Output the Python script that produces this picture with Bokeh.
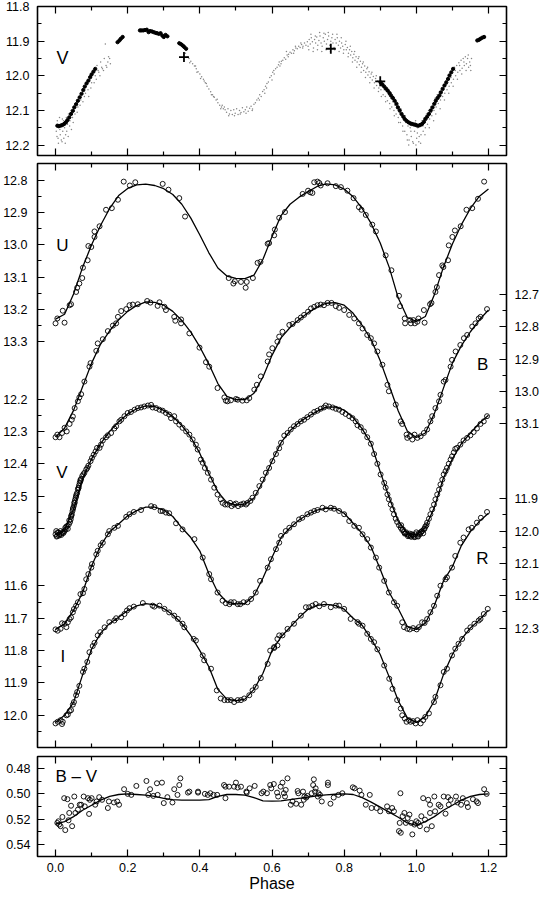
from bokeh.plotting import figure
from bokeh.models import (Range1d, FixedTicker, LinearAxis, Label,
                          CustomJSTickFormatter, NumeralTickFormatter)
from bokeh.layouts import column
from bokeh.embed import file_html
from bokeh.resources import INLINE

FONT = "Liberation Sans"

# ------------------------------------------------------------------ data
# top panel (V, other data set)
top_black = [(0.005, 12.144), (0.009, 12.145), (0.014, 12.144), (0.019, 12.142), (0.024, 12.139),
             (0.029, 12.134), (0.033, 12.128), (0.038, 12.120), (0.043, 12.110), (0.048, 12.101),
             (0.052, 12.091), (0.057, 12.082), (0.062, 12.072), (0.067, 12.062), (0.072, 12.052),
             (0.077, 12.041), (0.081, 12.031), (0.086, 12.022), (0.091, 12.014), (0.096, 12.004),
             (0.100, 11.996), (0.105, 11.988), (0.110, 11.980), (0.172, 11.903), (0.177, 11.898),
             (0.181, 11.893), (0.186, 11.888), (0.234, 11.869), (0.238, 11.869), (0.243, 11.869),
             (0.248, 11.868), (0.253, 11.867), (0.258, 11.874), (0.262, 11.871), (0.267, 11.872),
             (0.272, 11.874), (0.277, 11.876), (0.281, 11.877), (0.286, 11.879), (0.291, 11.877),
             (0.296, 11.884), (0.300, 11.888), (0.305, 11.882), (0.310, 11.886), (0.343, 11.906),
             (0.348, 11.909), (0.353, 11.913), (0.357, 11.917), (0.362, 11.922), (0.901, 12.019),
             (0.906, 12.025), (0.911, 12.031), (0.916, 12.037), (0.921, 12.043), (0.926, 12.050),
             (0.930, 12.057), (0.935, 12.064), (0.940, 12.072), (0.945, 12.081), (0.949, 12.091),
             (0.954, 12.100), (0.959, 12.110), (0.964, 12.118), (0.968, 12.125), (0.973, 12.130),
             (0.978, 12.134), (0.983, 12.137), (0.987, 12.139), (0.992, 12.140), (0.997, 12.141),
             (1.001, 12.143), (1.006, 12.144), (1.011, 12.142), (1.016, 12.139), (1.021, 12.133),
             (1.025, 12.125), (1.030, 12.118), (1.035, 12.110), (1.040, 12.100), (1.045, 12.091),
             (1.050, 12.081), (1.054, 12.072), (1.059, 12.064), (1.064, 12.057), (1.068, 12.048),
             (1.073, 12.038), (1.078, 12.028), (1.083, 12.019), (1.088, 12.009), (1.092, 11.999),
             (1.097, 11.990), (1.102, 11.980), (1.169, 11.898), (1.174, 11.896), (1.178, 11.893),
             (1.183, 11.890), (1.188, 11.888)]
top_plus = [(0.356, 11.946), (0.763, 11.922), (0.900, 12.016)]
top_gray = [
    (0.002, 12.16), (0.005, 12.13), (0.007, 12.18), (0.009, 12.15), (0.011, 12.12), (0.013, 12.17),
    (0.015, 12.14), (0.018, 12.19), (0.020, 12.16), (0.022, 12.13), (0.025, 12.15), (0.028, 12.17),
    (0.030, 12.12), (0.033, 12.14), (0.036, 12.11), (0.040, 12.13), (0.043, 12.10), (0.047, 12.12),
    (0.050, 12.09), (0.054, 12.11), (0.058, 12.08), (0.062, 12.09), (0.066, 12.06), (0.070, 12.07),
    (0.075, 12.05), (0.080, 12.06), (0.085, 12.03), (0.090, 12.04), (0.095, 12.01), (0.100, 12.02),
    (0.105, 11.99), (0.110, 12.00), (0.115, 11.97), (0.120, 11.99), (0.125, 11.96), (0.130, 11.98),
    (0.135, 11.95), (0.140, 11.97), (0.145, 11.96), (0.150, 11.95), (0.138, 11.908),
    (0.004, 12.175), (0.008, 12.195), (0.012, 12.155), (0.016, 12.185), (0.019, 12.125),
    (0.023, 12.18), (0.027, 12.195), (0.031, 12.16), (0.035, 12.175), (0.039, 12.145),
    (0.044, 12.155), (0.049, 12.135), (0.060, 12.105), (0.068, 12.085), (0.076, 12.075),
    (0.083, 12.05), (0.092, 12.06), (0.098, 12.035), (0.107, 12.02), (0.113, 12.01),
    (0.118, 11.985), (0.123, 12.0), (0.128, 11.975), (0.133, 11.985), (0.142, 11.975),
    (0.147, 11.945), (0.152, 11.965),
    (0.360, 11.935), (0.365, 11.945), (0.370, 11.950), (0.375, 11.958), (0.380, 11.965),
    (0.385, 11.972), (0.390, 11.980), (0.395, 11.988), (0.400, 11.995), (0.405, 12.003),
    (0.410, 12.010), (0.415, 12.020), (0.420, 12.030), (0.425, 12.038), (0.430, 12.046),
    (0.435, 12.055), (0.440, 12.062), (0.445, 12.070), (0.450, 12.078), (0.455, 12.085),
    (0.460, 12.090), (0.465, 12.095), (0.470, 12.098), (0.372, 11.962), (0.388, 11.972),
    (0.402, 12.008), (0.418, 12.022), (0.432, 12.055), (0.448, 12.068), (0.458, 12.095),
    (0.468, 12.090), (0.392, 11.99), (0.412, 12.015), (0.438, 12.06), (0.462, 12.085),
    (0.474, 12.105), (0.478, 12.095), (0.482, 12.110), (0.486, 12.100), (0.490, 12.112),
    (0.494, 12.098), (0.498, 12.108), (0.502, 12.095), (0.506, 12.112), (0.510, 12.100),
    (0.514, 12.106), (0.518, 12.092), (0.522, 12.104), (0.526, 12.098), (0.530, 12.090),
    (0.534, 12.102), (0.538, 12.094), (0.542, 12.088), (0.546, 12.096), (0.550, 12.082),
    (0.554, 12.078), (0.558, 12.070), (0.480, 12.115), (0.496, 12.115), (0.512, 12.11),
    (0.528, 12.108), (0.545, 12.10),
    (0.562, 12.065), (0.566, 12.055), (0.570, 12.060), (0.574, 12.045), (0.578, 12.040),
    (0.582, 12.030), (0.586, 12.022), (0.590, 12.018), (0.594, 12.005), (0.598, 12.000),
    (0.602, 11.990), (0.606, 11.995), (0.610, 11.980), (0.614, 11.975), (0.618, 11.968),
    (0.622, 11.972), (0.626, 11.958), (0.630, 11.955), (0.634, 11.948), (0.638, 11.952),
    (0.642, 11.940), (0.646, 11.938), (0.650, 11.932), (0.654, 11.935), (0.658, 11.925),
    (0.662, 11.928), (0.666, 11.920), (0.670, 11.922), (0.674, 11.915), (0.678, 11.918),
    (0.682, 11.910), (0.686, 11.915), (0.690, 11.905), (0.694, 11.912), (0.698, 11.902),
    (0.580, 12.050), (0.600, 12.012), (0.620, 11.960), (0.640, 11.930), (0.660, 11.935),
    (0.680, 11.905), (0.565, 12.07), (0.585, 12.035), (0.605, 11.985), (0.625, 11.965),
    (0.645, 11.945), (0.665, 11.915), (0.685, 11.92),
    (0.700, 11.915), (0.703, 11.895), (0.706, 11.908), (0.709, 11.890), (0.712, 11.902),
    (0.715, 11.920), (0.718, 11.895), (0.721, 11.905), (0.724, 11.888), (0.727, 11.912),
    (0.730, 11.898), (0.733, 11.885), (0.736, 11.905), (0.739, 11.915), (0.742, 11.890),
    (0.745, 11.900), (0.748, 11.880), (0.751, 11.908), (0.754, 11.895), (0.757, 11.885),
    (0.760, 11.912), (0.763, 11.900), (0.766, 11.890), (0.769, 11.905), (0.772, 11.918),
    (0.775, 11.895), (0.778, 11.905), (0.781, 11.890), (0.784, 11.912), (0.787, 11.900),
    (0.790, 11.920), (0.793, 11.905), (0.796, 11.915), (0.799, 11.925),
    (0.702, 11.925), (0.708, 11.88), (0.714, 11.93), (0.720, 11.885), (0.726, 11.925),
    (0.732, 11.875), (0.738, 11.93), (0.744, 11.877), (0.750, 11.925), (0.756, 11.875),
    (0.762, 11.93), (0.768, 11.88), (0.774, 11.925), (0.780, 11.88), (0.786, 11.93),
    (0.792, 11.89), (0.798, 11.935),
    (0.803, 11.910), (0.806, 11.925), (0.809, 11.918), (0.812, 11.935), (0.815, 11.925),
    (0.818, 11.940), (0.821, 11.930), (0.824, 11.948), (0.827, 11.938), (0.830, 11.955),
    (0.833, 11.945), (0.836, 11.960), (0.839, 11.950), (0.842, 11.968), (0.845, 11.958),
    (0.848, 11.975), (0.851, 11.965), (0.854, 11.985), (0.857, 11.972), (0.860, 11.990),
    (0.863, 11.980), (0.866, 11.998), (0.869, 11.988), (0.872, 12.005), (0.875, 11.995),
    (0.878, 12.012), (0.881, 12.002), (0.884, 12.020), (0.887, 12.008), (0.890, 12.028),
    (0.893, 12.015), (0.896, 12.035), (0.899, 12.022),
    (0.805, 11.90), (0.811, 11.945), (0.817, 11.915), (0.823, 11.96), (0.829, 11.93),
    (0.835, 11.975), (0.841, 11.945), (0.847, 11.99), (0.853, 11.96), (0.859, 12.005),
    (0.865, 11.975), (0.871, 12.02), (0.877, 11.99), (0.883, 12.035), (0.889, 12.0),
    (0.895, 12.045),
    (0.902, 12.040), (0.905, 12.030), (0.908, 12.055), (0.911, 12.040), (0.914, 12.060),
    (0.917, 12.045), (0.920, 12.072), (0.923, 12.055), (0.926, 12.080), (0.929, 12.065),
    (0.932, 12.090), (0.935, 12.075), (0.938, 12.100), (0.941, 12.085), (0.944, 12.110),
    (0.947, 12.095), (0.950, 12.120), (0.953, 12.105), (0.956, 12.135), (0.959, 12.115),
    (0.962, 12.145), (0.965, 12.125), (0.968, 12.160), (0.971, 12.135), (0.974, 12.170),
    (0.977, 12.145), (0.980, 12.185), (0.983, 12.150), (0.986, 12.175), (0.989, 12.135),
    (0.992, 12.195), (0.995, 12.160), (0.998, 12.130), (1.001, 12.180), (1.004, 12.150),
    (1.007, 12.190), (1.010, 12.140), (1.013, 12.170), (1.016, 12.130), (1.019, 12.160),
    (1.022, 12.120), (1.025, 12.150), (1.028, 12.110), (1.031, 12.140), (1.034, 12.100),
    (1.037, 12.125), (1.040, 12.090), (1.043, 12.115), (1.046, 12.080), (1.049, 12.100),
    (0.903, 12.06), (0.909, 12.025), (0.915, 12.075), (0.921, 12.045), (0.927, 12.095),
    (0.933, 12.06), (0.939, 12.115), (0.945, 12.075), (0.951, 12.135), (0.957, 12.095),
    (0.963, 12.16), (0.969, 12.115), (0.975, 12.185), (0.979, 12.2), (0.985, 12.16),
    (0.990, 12.19), (0.994, 12.145), (0.999, 12.2), (1.003, 12.165), (1.008, 12.175),
    (1.012, 12.195), (1.018, 12.145), (1.024, 12.17), (1.030, 12.125), (1.036, 12.15),
    (1.042, 12.105), (1.048, 12.13),
    (1.052, 12.065), (1.055, 12.090), (1.058, 12.055), (1.061, 12.080), (1.064, 12.045),
    (1.067, 12.070), (1.070, 12.035), (1.073, 12.060), (1.076, 12.025), (1.079, 12.050),
    (1.082, 12.015), (1.085, 12.040), (1.088, 12.005), (1.091, 12.030), (1.094, 11.995),
    (1.097, 12.020), (1.100, 11.985), (1.103, 12.010), (1.106, 11.975), (1.109, 12.000),
    (1.112, 11.970), (1.115, 11.990), (1.118, 11.962), (1.121, 11.985), (1.124, 11.955),
    (1.127, 11.978), (1.130, 11.950), (1.133, 11.970), (1.136, 11.945), (1.139, 11.965),
    (1.142, 11.950), (1.145, 11.975), (1.148, 11.960), (1.151, 11.985),
    (1.054, 12.11), (1.060, 12.06), (1.066, 12.095), (1.072, 12.045), (1.078, 12.07),
    (1.084, 12.025), (1.090, 12.05), (1.096, 12.005), (1.102, 12.03), (1.108, 11.985),
    (1.114, 12.01), (1.120, 11.97), (1.126, 11.995), (1.132, 11.96), (1.138, 11.985),
    (1.144, 11.94), (1.150, 11.97), (1.153, 11.95)]

# fitted curves (middle + bottom panels)
curve_phase = [0.000, 0.025, 0.050, 0.075, 0.100, 0.125, 0.150, 0.175, 0.200, 0.225, 0.250, 0.275,
               0.300, 0.325, 0.350, 0.375, 0.400, 0.425, 0.450, 0.475, 0.500, 0.525, 0.550, 0.575,
               0.600, 0.625, 0.650, 0.675, 0.700, 0.725, 0.750, 0.775, 0.800, 0.825, 0.850, 0.875,
               0.900, 0.925, 0.950, 0.975, 1.000, 1.025, 1.050, 1.075, 1.100, 1.125, 1.150, 1.175,
               1.200]
U_curve = [13.230, 13.215, 13.152, 13.070, 13.000, 12.940, 12.888, 12.848, 12.826, 12.815, 12.813,
           12.817, 12.827, 12.845, 12.875, 12.918, 12.970, 13.025, 13.072, 13.097, 13.104, 13.105,
           13.094, 13.045, 12.975, 12.910, 12.875, 12.853, 12.836, 12.820, 12.812, 12.815, 12.828,
           12.852, 12.888, 12.935, 12.995, 13.070, 13.165, 13.225, 13.237, 13.222, 13.155, 13.070,
           12.998, 12.938, 12.888, 12.850, 12.828]
B_curve = [13.140, 13.113, 13.058, 12.985, 12.912, 12.853, 12.812, 12.778, 12.752, 12.734, 12.723,
           12.724, 12.733, 12.752, 12.780, 12.816, 12.862, 12.915, 12.975, 13.015, 13.025, 13.025,
           13.005, 12.955, 12.888, 12.834, 12.802, 12.777, 12.756, 12.739, 12.727, 12.725, 12.733,
           12.758, 12.795, 12.840, 12.905, 12.982, 13.060, 13.122, 13.142, 13.128, 13.068, 12.990,
           12.912, 12.858, 12.815, 12.778, 12.748]
V_curve = [12.618, 12.605, 12.540, 12.445, 12.385, 12.338, 12.300, 12.270, 12.246, 12.230, 12.221,
           12.223, 12.235, 12.254, 12.282, 12.318, 12.368, 12.430, 12.487, 12.520, 12.527, 12.525,
           12.506, 12.455, 12.392, 12.335, 12.298, 12.272, 12.254, 12.238, 12.225, 12.224, 12.234,
           12.257, 12.292, 12.338, 12.425, 12.505, 12.578, 12.614, 12.620, 12.597, 12.535, 12.445,
           12.385, 12.338, 12.305, 12.275, 12.250]
R_curve = [12.304, 12.287, 12.245, 12.190, 12.108, 12.045, 12.002, 11.978, 11.953, 11.937, 11.926,
           11.926, 11.935, 11.955, 11.990, 12.020, 12.062, 12.132, 12.190, 12.220, 12.225, 12.224,
           12.200, 12.145, 12.082, 12.020, 11.990, 11.966, 11.948, 11.935, 11.929, 11.930, 11.945,
           11.976, 12.008, 12.050, 12.118, 12.190, 12.240, 12.295, 12.304, 12.285, 12.230, 12.155,
           12.110, 12.045, 12.002, 11.970, 11.945]
I_curve = [12.022, 12.000, 11.960, 11.875, 11.795, 11.746, 11.716, 11.697, 11.676, 11.662, 11.655,
           11.659, 11.670, 11.689, 11.716, 11.754, 11.800, 11.850, 11.920, 11.950, 11.955, 11.950,
           11.920, 11.870, 11.800, 11.758, 11.728, 11.698, 11.672, 11.660, 11.657, 11.660, 11.672,
           11.700, 11.722, 11.764, 11.812, 11.882, 11.955, 12.008, 12.022, 12.004, 11.955, 11.875,
           11.812, 11.765, 11.730, 11.705, 11.675]
BV_curve = [0.524, 0.522, 0.518, 0.513, 0.509, 0.505, 0.502, 0.5005, 0.500, 0.5005, 0.501, 0.502,
            0.5035, 0.5045, 0.505, 0.505, 0.505, 0.5045, 0.502, 0.5005, 0.5005, 0.501, 0.503, 0.5055,
            0.5058, 0.5055, 0.5045, 0.5035, 0.5025, 0.5015, 0.5008, 0.5003, 0.500, 0.5005, 0.503,
            0.5065, 0.5105, 0.5145, 0.5185, 0.523, 0.525, 0.522, 0.518, 0.513, 0.509, 0.505, 0.502,
            0.5005, 0.500]

# observations (phase, magnitude)
U_obs = [(0.000, 13.243), (0.005, 13.228), (0.020, 13.204), (0.025, 13.241), (0.039, 13.187),
         (0.043, 13.184), (0.057, 13.146), (0.060, 13.133), (0.066, 13.120), (0.074, 13.103),
         (0.076, 13.071), (0.089, 13.048), (0.091, 13.004), (0.099, 13.007), (0.108, 12.976),
         (0.108, 12.959), (0.122, 12.943), (0.140, 12.892), (0.156, 12.887), (0.173, 12.861),
         (0.189, 12.805), (0.206, 12.817), (0.221, 12.807), (0.297, 12.812), (0.313, 12.830),
         (0.343, 12.856), (0.359, 12.913), (0.480, 13.103), (0.493, 13.120), (0.497, 13.113),
         (0.514, 13.115), (0.527, 13.133), (0.530, 13.115), (0.547, 13.103), (0.560, 13.056),
         (0.568, 13.053), (0.588, 12.997), (0.592, 12.995), (0.606, 12.971), (0.620, 12.917),
         (0.608, 12.953), (0.636, 12.899), (0.685, 12.843), (0.700, 12.833), (0.706, 12.838),
         (0.712, 12.840), (0.717, 12.807), (0.726, 12.805), (0.731, 12.809), (0.735, 12.817),
         (0.754, 12.810), (0.777, 12.819), (0.791, 12.822), (0.809, 12.833), (0.826, 12.856),
         (0.841, 12.884), (0.848, 12.892), (0.860, 12.908), (0.878, 12.938), (0.888, 12.959),
         (0.915, 13.033), (0.931, 13.079), (0.952, 13.158), (0.955, 13.190), (0.968, 13.228),
         (0.969, 13.243), (0.983, 13.233), (0.985, 13.243), (0.992, 13.233), (0.996, 13.243),
         (1.003, 13.238), (1.006, 13.228), (1.021, 13.202), (1.023, 13.241), (1.038, 13.184),
         (1.042, 13.180), (1.053, 13.146), (1.057, 13.131), (1.063, 13.094), (1.072, 13.064),
         (1.075, 13.069), (1.088, 13.048), (1.090, 13.002), (1.100, 12.976), (1.107, 12.956),
         (1.123, 12.943), (1.139, 12.892), (1.155, 12.887), (1.171, 12.858), (1.188, 12.805)]
B_obs = [(0.000, 13.141), (0.005, 13.133), (0.011, 13.141), (0.018, 13.128), (0.025, 13.112),
         (0.031, 13.123), (0.039, 13.100), (0.045, 13.087), (0.048, 13.077), (0.053, 13.051),
         (0.062, 13.030), (0.066, 13.018), (0.071, 13.008), (0.080, 12.969), (0.094, 12.923),
         (0.097, 12.912), (0.113, 12.874), (0.117, 12.851), (0.131, 12.838), (0.145, 12.813),
         (0.159, 12.796), (0.168, 12.789), (0.173, 12.769), (0.182, 12.751), (0.196, 12.745),
         (0.205, 12.733), (0.214, 12.731), (0.228, 12.730), (0.254, 12.720), (0.263, 12.725),
         (0.283, 12.735), (0.288, 12.724), (0.302, 12.738), (0.306, 12.748), (0.329, 12.769),
         (0.332, 12.781), (0.348, 12.777), (0.348, 12.789), (0.371, 12.820), (0.399, 12.864),
         (0.417, 12.909), (0.426, 12.923), (0.449, 12.989), (0.468, 13.018), (0.472, 13.028),
         (0.477, 13.030), (0.486, 13.027), (0.500, 13.023), (0.505, 13.025), (0.518, 13.028),
         (0.530, 13.027), (0.537, 13.020), (0.551, 12.994), (0.558, 12.979), (0.569, 12.953),
         (0.588, 12.907), (0.592, 12.885), (0.601, 12.866), (0.615, 12.846), (0.620, 12.830),
         (0.629, 12.815), (0.648, 12.794), (0.657, 12.791), (0.671, 12.779), (0.680, 12.771),
         (0.689, 12.763), (0.700, 12.753), (0.708, 12.743), (0.717, 12.738), (0.726, 12.733),
         (0.735, 12.731), (0.744, 12.733), (0.754, 12.726), (0.765, 12.726), (0.777, 12.736),
         (0.786, 12.741), (0.800, 12.748), (0.814, 12.763), (0.828, 12.774), (0.841, 12.789),
         (0.851, 12.805), (0.864, 12.825), (0.874, 12.835), (0.883, 12.851), (0.892, 12.876),
         (0.906, 12.917), (0.920, 12.979), (0.924, 12.999), (0.943, 13.040), (0.957, 13.092),
         (0.961, 13.100), (0.973, 13.133), (0.975, 13.143), (0.982, 13.138), (0.989, 13.148),
         (0.995, 13.133), (1.003, 13.143), (1.012, 13.138), (1.021, 13.128), (1.030, 13.117),
         (1.039, 13.092), (1.044, 13.076), (1.053, 13.051), (1.063, 13.030), (1.067, 13.010),
         (1.076, 12.969), (1.081, 12.964), (1.095, 12.923), (1.099, 12.902), (1.109, 12.876),
         (1.122, 12.856), (1.132, 12.835), (1.141, 12.825), (1.155, 12.799), (1.164, 12.789),
         (1.173, 12.774), (1.178, 12.769), (1.196, 12.745)]
V_obs = [(0.122, 12.351), (0.126, 12.341), (0.131, 12.328), (0.140, 12.318), (0.145, 12.312),
         (0.154, 12.305), (0.163, 12.291), (0.168, 12.284), (0.177, 12.269), (0.182, 12.264),
         (0.191, 12.253), (0.200, 12.243), (0.209, 12.240), (0.219, 12.233), (0.228, 12.228),
         (0.237, 12.226), (0.246, 12.223), (0.256, 12.220), (0.265, 12.218), (0.269, 12.226),
         (0.279, 12.228), (0.288, 12.233), (0.297, 12.236), (0.306, 12.243), (0.315, 12.248),
         (0.320, 12.259), (0.329, 12.253), (0.334, 12.269), (0.343, 12.279), (0.352, 12.289),
         (0.362, 12.300), (0.371, 12.310), (0.380, 12.325), (0.389, 12.341), (0.394, 12.356),
         (0.000, 12.618), (0.002, 12.608), (0.005, 12.623), (0.008, 12.613), (0.011, 12.618),
         (0.014, 12.608), (0.018, 12.615), (0.020, 12.611), (0.025, 12.608), (0.028, 12.603),
         (0.030, 12.594), (0.034, 12.601), (0.037, 12.587), (0.040, 12.580), (0.042, 12.572),
         (0.043, 12.564), (0.045, 12.556), (0.047, 12.546), (0.049, 12.536), (0.051, 12.529),
         (0.053, 12.521), (0.054, 12.512), (0.056, 12.505), (0.058, 12.495), (0.060, 12.490),
         (0.062, 12.480), (0.064, 12.474), (0.065, 12.467), (0.067, 12.459), (0.069, 12.454),
         (0.071, 12.447), (0.074, 12.438), (0.077, 12.433), (0.080, 12.428), (0.085, 12.418),
         (0.088, 12.413), (0.091, 12.406), (0.097, 12.392), (0.101, 12.382), (0.106, 12.372),
         (0.111, 12.362), (0.115, 12.351), (0.403, 12.387), (0.408, 12.397), (0.414, 12.413),
         (0.422, 12.428), (0.431, 12.449), (0.440, 12.474), (0.449, 12.495), (0.458, 12.510),
         (0.463, 12.521), (0.470, 12.526), (0.477, 12.526), (0.484, 12.521), (0.488, 12.531),
         (0.495, 12.526), (0.500, 12.523), (0.506, 12.531), (0.514, 12.526), (0.521, 12.523),
         (0.528, 12.526), (0.532, 12.521), (0.540, 12.515), (0.546, 12.505), (0.555, 12.490),
         (0.565, 12.469), (0.574, 12.449), (0.583, 12.428), (0.592, 12.413), (0.601, 12.392),
         (0.611, 12.370), (0.620, 12.352), (0.625, 12.335),
         (0.634, 12.313), (0.643, 12.305), (0.652, 12.294), (0.661, 12.284), (0.671, 12.277),
         (0.680, 12.269), (0.689, 12.264), (0.698, 12.256), (0.708, 12.248), (0.717, 12.240),
         (0.726, 12.236), (0.735, 12.230), (0.744, 12.226), (0.749, 12.220), (0.758, 12.223),
         (0.768, 12.226), (0.777, 12.230), (0.786, 12.233), (0.795, 12.240), (0.804, 12.246),
         (0.814, 12.253), (0.823, 12.259), (0.832, 12.269), (0.837, 12.281), (0.846, 12.287),
         (0.855, 12.300), (0.864, 12.318), (0.874, 12.338), (1.113, 12.351),
         (1.122, 12.341), (1.131, 12.328), (1.141, 12.320), (1.150, 12.312), (1.159, 12.302),
         (1.168, 12.291), (1.178, 12.277), (1.187, 12.269), (1.196, 12.253),
         (0.883, 12.370), (0.892, 12.400), (0.901, 12.433), (0.911, 12.459),
         (0.915, 12.474), (0.920, 12.495), (0.924, 12.510), (0.929, 12.526), (0.934, 12.541),
         (0.938, 12.556), (0.943, 12.570), (0.947, 12.580), (0.952, 12.590), (0.957, 12.598),
         (0.961, 12.605), (0.966, 12.611), (0.970, 12.615), (0.975, 12.618), (0.979, 12.621),
         (0.984, 12.623), (0.988, 12.618), (0.993, 12.625), (0.998, 12.618), (1.003, 12.623),
         (1.007, 12.615), (1.012, 12.613), (1.016, 12.608), (1.021, 12.603), (1.025, 12.594),
         (1.030, 12.582), (1.035, 12.570), (1.039, 12.556), (1.044, 12.541), (1.049, 12.526),
         (1.053, 12.510), (1.058, 12.495), (1.063, 12.480), (1.067, 12.464), (1.072, 12.449),
         (1.076, 12.433), (1.081, 12.423), (1.085, 12.413), (1.090, 12.400), (1.095, 12.387),
         (1.099, 12.377), (1.104, 12.365), (1.108, 12.354),
         (0.003, 12.625), (0.006, 12.612), (0.010, 12.622), (0.016, 12.620), (0.022, 12.614),
         (0.027, 12.598), (0.033, 12.592), (0.038, 12.575), (0.044, 12.560), (0.048, 12.540),
         (0.052, 12.520), (0.057, 12.500), (0.063, 12.476), (0.069, 12.450), (0.958, 12.590),
         (0.963, 12.603), (0.968, 12.616), (0.972, 12.612), (0.977, 12.624), (0.982, 12.616),
         (0.986, 12.626), (0.991, 12.620), (0.996, 12.627), (1.000, 12.612), (1.005, 12.625),
         (1.010, 12.618), (1.014, 12.610), (1.019, 12.615), (1.023, 12.600), (1.028, 12.590)]
R_obs = [(0.000, 12.304), (0.006, 12.308), (0.014, 12.302), (0.018, 12.285), (0.025, 12.287),
         (0.030, 12.297), (0.034, 12.282), (0.039, 12.272), (0.043, 12.267), (0.048, 12.251),
         (0.051, 12.241), (0.057, 12.231), (0.062, 12.220), (0.069, 12.195), (0.076, 12.192),
         (0.080, 12.179), (0.085, 12.149), (0.091, 12.133), (0.099, 12.113), (0.101, 12.102),
         (0.113, 12.072), (0.117, 12.061), (0.125, 12.044), (0.131, 12.036), (0.145, 12.010),
         (0.149, 12.000), (0.163, 11.990), (0.173, 11.984), (0.196, 11.956), (0.205, 11.948),
         (0.217, 11.941), (0.237, 11.935), (0.265, 11.923), (0.274, 11.926), (0.291, 11.938),
         (0.297, 11.938), (0.306, 11.943), (0.315, 11.945), (0.334, 11.976), (0.352, 11.995),
         (0.385, 12.025), (0.408, 12.082), (0.426, 12.133), (0.431, 12.149), (0.449, 12.190),
         (0.463, 12.215), (0.472, 12.223), (0.482, 12.226), (0.486, 12.220), (0.495, 12.220),
         (0.505, 12.226), (0.512, 12.226), (0.521, 12.220), (0.532, 12.220), (0.542, 12.210),
         (0.555, 12.190), (0.567, 12.154), (0.588, 12.113), (0.597, 12.087), (0.611, 12.056),
         (0.620, 12.036), (0.625, 12.015), (0.638, 12.000), (0.648, 11.990),
         (0.661, 11.979), (0.675, 11.964), (0.684, 11.959), (0.698, 11.948), (0.708, 11.943),
         (0.717, 11.938), (0.726, 11.935), (0.740, 11.928), (0.749, 11.933), (0.763, 11.928),
         (0.772, 11.931), (0.786, 11.938), (0.800, 11.948), (0.814, 11.969), (0.828, 11.984),
         (0.841, 11.990), (0.851, 12.010), (0.864, 12.025), (0.874, 12.051), (0.888, 12.082),
         (0.897, 12.113), (0.911, 12.154), (0.924, 12.190), (0.938, 12.220), (0.947, 12.231),
         (0.961, 12.282), (0.966, 12.297), (0.975, 12.302), (0.982, 12.304), (0.991, 12.300),
         (1.001, 12.304), (1.007, 12.297), (1.016, 12.282), (1.023, 12.284), (1.030, 12.272),
         (1.039, 12.251), (1.049, 12.231), (1.058, 12.200), (1.067, 12.169), (1.081, 12.149),
         (1.085, 12.143), (1.099, 12.113), (1.108, 12.077), (1.122, 12.036), (1.131, 12.020),
         (1.145, 11.995), (1.154, 11.990), (1.168, 11.974), (1.179, 11.959), (1.196, 11.941)]
I_obs = [(0.000, 12.025), (0.006, 12.020), (0.014, 12.015), (0.018, 12.027), (0.020, 12.020),
         (0.030, 12.000), (0.034, 11.998), (0.039, 11.987), (0.043, 11.984), (0.048, 11.967),
         (0.051, 11.959), (0.057, 11.938), (0.060, 11.928), (0.066, 11.909), (0.076, 11.866),
         (0.080, 11.856), (0.088, 11.835), (0.094, 11.805), (0.103, 11.786), (0.108, 11.776),
         (0.117, 11.753), (0.124, 11.743), (0.136, 11.728), (0.149, 11.712), (0.163, 11.707),
         (0.168, 11.700), (0.182, 11.697), (0.191, 11.687), (0.198, 11.676), (0.205, 11.669),
         (0.217, 11.664), (0.242, 11.653), (0.269, 11.661), (0.274, 11.664), (0.288, 11.661),
         (0.302, 11.671), (0.315, 11.682), (0.329, 11.692), (0.339, 11.702), (0.352, 11.717),
         (0.357, 11.728), (0.383, 11.764), (0.389, 11.769), (0.408, 11.815), (0.412, 11.830),
         (0.431, 11.856), (0.447, 11.923), (0.458, 11.948), (0.468, 11.953), (0.477, 11.953),
         (0.486, 11.953), (0.495, 11.959), (0.505, 11.953), (0.514, 11.953), (0.523, 11.948),
         (0.537, 11.938), (0.546, 11.923), (0.555, 11.912), (0.569, 11.885), (0.588, 11.841),
         (0.595, 11.800), (0.606, 11.789), (0.615, 11.764), (0.620, 11.753), (0.606, 11.792),
         (0.615, 11.784), (0.629, 11.753), (0.643, 11.733), (0.661, 11.717), (0.680, 11.692),
         (0.694, 11.666), (0.703, 11.666), (0.712, 11.661), (0.721, 11.656), (0.731, 11.663),
         (0.744, 11.656), (0.763, 11.666), (0.777, 11.661), (0.786, 11.661), (0.800, 11.671),
         (0.818, 11.702), (0.837, 11.712), (0.841, 11.717), (0.851, 11.723), (0.864, 11.748),
         (0.874, 11.764), (0.883, 11.774), (0.892, 11.796), (0.911, 11.846), (0.925, 11.887),
         (0.934, 11.918), (0.947, 11.953), (0.957, 11.979), (0.961, 12.000), (0.968, 12.010),
         (0.973, 12.020), (0.980, 12.015), (0.984, 12.020), (0.991, 12.018), (0.998, 12.025),
         (1.003, 12.015), (1.012, 12.025), (1.019, 12.015), (1.025, 12.005), (1.035, 11.994),
         (1.049, 11.959), (1.053, 11.943), (1.067, 11.907), (1.076, 11.866), (1.085, 11.856),
         (1.099, 11.815), (1.108, 11.794), (1.117, 11.779), (1.127, 11.764), (1.141, 11.738),
         (1.150, 11.728), (1.161, 11.717), (1.173, 11.707), (1.178, 11.702), (1.187, 11.687),
         (1.198, 11.671)]
BV_obs = [(0.005, 0.523), (0.008, 0.5217), (0.010, 0.5243), (0.014, 0.5256), (0.019, 0.5183),
          (0.024, 0.5034), (0.027, 0.5287), (0.033, 0.5042), (0.036, 0.5209), (0.038, 0.5151),
          (0.043, 0.5094), (0.046, 0.5256), (0.052, 0.5021), (0.055, 0.5151), (0.062, 0.5125),
          (0.067, 0.5086), (0.071, 0.5086), (0.078, 0.5021), (0.081, 0.5099), (0.090, 0.5034),
          (0.093, 0.5159), (0.095, 0.5047), (0.100, 0.5034), (0.110, 0.5086), (0.114, 0.506),
          (0.121, 0.5026), (0.129, 0.5047), (0.145, 0.5112), (0.148, 0.506), (0.162, 0.5068),
          (0.171, 0.506), (0.176, 0.5086), (0.190, 0.4963), (0.200, 0.500), (0.210, 0.5008),
          (0.224, 0.4937), (0.252, 0.4898), (0.257, 0.5008), (0.262, 0.4963), (0.271, 0.5016),
          (0.281, 0.4916), (0.283, 0.5008), (0.295, 0.4911), (0.300, 0.5073), (0.310, 0.5026),
          (0.324, 0.5068), (0.329, 0.4963), (0.338, 0.5008), (0.343, 0.493), (0.346, 0.4877),
          (0.367, 0.499), (0.371, 0.4982), (0.395, 0.4982), (0.395, 0.499), (0.414, 0.500),
          (0.422, 0.5008), (0.429, 0.4995), (0.438, 0.5008), (0.448, 0.5008), (0.467, 0.493),
          (0.471, 0.4943), (0.471, 0.5034), (0.481, 0.4943), (0.495, 0.4943), (0.500, 0.4911),
          (0.505, 0.495), (0.514, 0.4943), (0.529, 0.4982), (0.530, 0.499), (0.538, 0.4956),
          (0.552, 0.4937), (0.571, 0.4995), (0.576, 0.4982), (0.586, 0.4995), (0.595, 0.493),
          (0.598, 0.4956), (0.605, 0.4922), (0.614, 0.499), (0.617, 0.5021), (0.624, 0.4943),
          (0.629, 0.4911), (0.633, 0.4995), (0.636, 0.5021), (0.638, 0.4969), (0.643, 0.4877),
          (0.652, 0.5086), (0.657, 0.506), (0.667, 0.5078), (0.671, 0.4977), (0.673, 0.4995),
          (0.681, 0.5086), (0.686, 0.4982), (0.688, 0.5047), (0.690, 0.5021), (0.695, 0.5029),
          (0.698, 0.5016), (0.710, 0.4995), (0.714, 0.493), (0.716, 0.4885), (0.719, 0.4982),
          (0.721, 0.4956), (0.727, 0.5021), (0.729, 0.4995), (0.733, 0.5008), (0.738, 0.506),
          (0.755, 0.4911), (0.755, 0.493), (0.762, 0.5078), (0.771, 0.5029), (0.784, 0.5008),
          (0.795, 0.4995), (0.824, 0.4948), (0.829, 0.4956), (0.843, 0.4974), (0.848, 0.5008),
          (0.860, 0.5086), (0.871, 0.5008), (0.876, 0.5112), (0.890, 0.5112), (0.900, 0.5138),
          (0.919, 0.5099), (0.924, 0.5138), (0.933, 0.5112), (0.938, 0.5138), (0.952, 0.5295),
          (0.954, 0.523), (0.956, 0.4995), (0.957, 0.5308), (0.962, 0.5177), (0.967, 0.5151),
          (0.971, 0.523), (0.976, 0.5191), (0.981, 0.5164), (0.986, 0.523), (0.989, 0.5321),
          (0.995, 0.5243), (1.000, 0.5217), (1.005, 0.523), (1.010, 0.5256), (1.014, 0.5177),
          (1.019, 0.5034), (1.024, 0.5204), (1.029, 0.5282), (1.033, 0.5047), (1.038, 0.5151),
          (1.038, 0.5086), (1.043, 0.5256), (1.050, 0.5021), (1.052, 0.5138), (1.062, 0.5086),
          (1.067, 0.5099), (1.076, 0.5021), (1.081, 0.5157), (1.088, 0.5026), (1.090, 0.5086),
          (1.095, 0.5047), (1.110, 0.5021), (1.114, 0.5068), (1.124, 0.5086), (1.129, 0.5034),
          (1.140, 0.5073), (1.143, 0.5104), (1.157, 0.5042), (1.167, 0.506), (1.171, 0.5073),
          (1.188, 0.4963), (1.195, 0.500)]

# ticks / labels
x_major = [0.0, 0.2, 0.4, 0.6, 0.8, 1.0, 1.2]
x_minor = [0.1, 0.3, 0.5, 0.7, 0.9, 1.1]
top_y_major = [11.8, 11.9, 12.0, 12.1, 12.2]
top_y_minor = [11.85, 11.95, 12.05, 12.15]
U_ticks = [12.8, 12.9, 13.0, 13.1, 13.2, 13.3]
V_ticks = [12.2, 12.3, 12.4, 12.5, 12.6]
I_ticks = [11.6, 11.7, 11.8, 11.9, 12.0]
B_ticks = [12.7, 12.8, 12.9, 13.0, 13.1]
R_ticks = [11.9, 12.0, 12.1, 12.2, 12.3]
BV_major = [0.48, 0.50, 0.52, 0.54]
BV_minor = [0.47, 0.49, 0.51, 0.53, 0.55]

# vertical shift of each band in the stacked middle panel
OFFSET = {"U": 0.0, "B": 0.454, "V": 1.277, "R": 1.885, "I": 2.4545}

# ------------------------------------------------------------------ helpers
FRAME_W = 469
XR = (-0.05, 1.25)
TICK_FS = "12.5px"


def style_axis(ax, labels=True, standoff=8):
    ax.axis_line_color = None
    ax.major_tick_in = 7
    ax.major_tick_out = 0
    ax.minor_tick_in = 4
    ax.minor_tick_out = 0
    ax.major_tick_line_color = "black"
    ax.minor_tick_line_color = "black"
    ax.major_tick_line_width = 1.2
    ax.minor_tick_line_width = 1.2
    ax.major_label_text_font = FONT
    ax.major_label_text_color = "black"
    if labels:
        ax.major_label_text_font_size = TICK_FS
        ax.major_label_standoff = standoff
    else:
        # tick marks only: labels are not painted and take no room
        ax.major_label_text_font_size = "1px"
        ax.major_label_text_alpha = 0
        ax.major_label_standoff = 0


def make_fig(frame_h, y0, y1, top, bottom):
    p = figure(frame_width=FRAME_W, frame_height=frame_h,
               x_range=Range1d(*XR), y_range=Range1d(y0, y1),
               output_backend="svg", toolbar_location=None,
               x_axis_location=None, y_axis_location=None,
               min_border_left=36, min_border_right=37,
               min_border_top=top, min_border_bottom=bottom,
               background_fill_color="white", border_fill_color="white")
    p.outline_line_color = "black"
    p.outline_line_width = 1.6
    p.grid.visible = False
    return p


def add_x_axes(p, bottom_labels=False):
    for loc in ("above", "below"):
        show = bottom_labels and loc == "below"
        ax = LinearAxis(ticker=FixedTicker(ticks=x_major, minor_ticks=x_minor),
                        formatter=NumeralTickFormatter(format="0.0"))
        style_axis(ax, labels=show, standoff=6)
        p.add_layout(ax, loc)
        if show:
            ax.axis_label = "Phase"
            ax.axis_label_text_font = FONT
            ax.axis_label_text_font_size = "16px"
            ax.axis_label_text_font_style = "normal"
            ax.axis_label_text_color = "black"
            ax.axis_label_standoff = 0


def add_label(p, x, y, text, align="left", size="17px"):
    p.add_layout(Label(x=x, y=y, text=text, text_font=FONT, text_font_size=size,
                       text_align=align, text_baseline="middle", text_color="black"))


def xs(pts):
    return [a for a, _ in pts]


def ys(pts, off=0.0):
    return [b + off for _, b in pts]


# ------------------------------------------------------------------ top panel
p1 = make_fig(149, 12.23, 11.8, top=6, bottom=3)
add_x_axes(p1)
for loc in ("left", "right"):
    ax = LinearAxis(ticker=FixedTicker(ticks=top_y_major, minor_ticks=top_y_minor),
                    formatter=NumeralTickFormatter(format="0.0"))
    style_axis(ax, labels=(loc == "left"), standoff=8)
    p1.add_layout(ax, loc)
p1.scatter(xs(top_gray), ys(top_gray), size=1.5, color="#858585", line_color=None)
p1.scatter(xs(top_black), ys(top_black), size=3.3, color="black")
p1.scatter(xs(top_plus), ys(top_plus), marker="cross", size=10, line_color="black", line_width=1.8)
add_label(p1, 0.003, 11.95, "V", size="18px")

# ------------------------------------------------------------------ middle panel
p2 = make_fig(584, 14.554, 12.749, top=5, bottom=4)
add_x_axes(p2)

left_pos = ([round(v + OFFSET["U"], 4) for v in U_ticks] +
            [round(v + OFFSET["V"], 4) for v in V_ticks] +
            [round(v + OFFSET["I"], 4) for v in I_ticks])
left_lab = ["%.1f" % v for v in U_ticks + V_ticks + I_ticks]
left_minor = ([round(v + 0.05 + OFFSET["U"], 4) for v in U_ticks[:-1]] +
              [round(v + 0.05 + OFFSET["V"], 4) for v in V_ticks[:-1]] +
              [round(v + 0.05 + OFFSET["I"], 4) for v in I_ticks])
right_pos = ([round(v + OFFSET["B"], 4) for v in B_ticks] +
             [round(v + OFFSET["R"], 4) for v in R_ticks])
right_lab = ["%.1f" % v for v in B_ticks + R_ticks]
right_minor = ([round(v + 0.05 + OFFSET["B"], 4) for v in B_ticks[:-1]] +
               [round(v + 0.05 + OFFSET["R"], 4) for v in R_ticks[:-1]])

JS = """
let best = 0, d = 1e9;
for (let i = 0; i < pos.length; i++) {
  const e = Math.abs(pos[i] - tick);
  if (e < d) { d = e; best = i; }
}
return lab[best];
"""
axl = LinearAxis(ticker=FixedTicker(ticks=left_pos, minor_ticks=left_minor),
                 formatter=CustomJSTickFormatter(args=dict(pos=left_pos, lab=left_lab), code=JS))
style_axis(axl, standoff=10)
p2.add_layout(axl, "left")
axr = LinearAxis(ticker=FixedTicker(ticks=right_pos, minor_ticks=right_minor),
                 formatter=CustomJSTickFormatter(args=dict(pos=right_pos, lab=right_lab), code=JS))
style_axis(axr, standoff=8)
p2.add_layout(axr, "right")

bands = [("U", U_curve, U_obs), ("B", B_curve, B_obs), ("V", V_curve, V_obs),
         ("R", R_curve, R_obs), ("I", I_curve, I_obs)]
for name, curve, obs in bands:
    off = OFFSET[name]
    p2.scatter(xs(obs), ys(obs, off), size=5, fill_color=None, line_color="black", line_width=0.9)
    p2.line(curve_phase, [c + off for c in curve], line_color="black", line_width=1.3)

add_label(p2, 0.002, 13.002, "U")
add_label(p2, 0.002, 13.704, "V")
add_label(p2, 0.014, 14.274, "I")
add_label(p2, 1.200, 13.369, "B", align="right")
add_label(p2, 1.200, 13.969, "R", align="right")

# ------------------------------------------------------------------ bottom panel
p3 = make_fig(100, 0.5496, 0.4704, top=5, bottom=0)
add_x_axes(p3, bottom_labels=True)
for loc in ("left", "right"):
    ax = LinearAxis(ticker=FixedTicker(ticks=BV_major, minor_ticks=BV_minor),
                    formatter=NumeralTickFormatter(format="0.00"))
    style_axis(ax, labels=(loc == "left"), standoff=7)
    p3.add_layout(ax, loc)
p3.scatter(xs(BV_obs), ys(BV_obs), size=5, fill_color=None, line_color="black", line_width=0.9)
p3.line(curve_phase, BV_curve, line_color="black", line_width=1.3)
add_label(p3, 0.0, 0.4865, "B \u2013 V")

layout = column(p1, p2, p3, spacing=0)
open("out.html", "w").write(file_html(layout, INLINE))
